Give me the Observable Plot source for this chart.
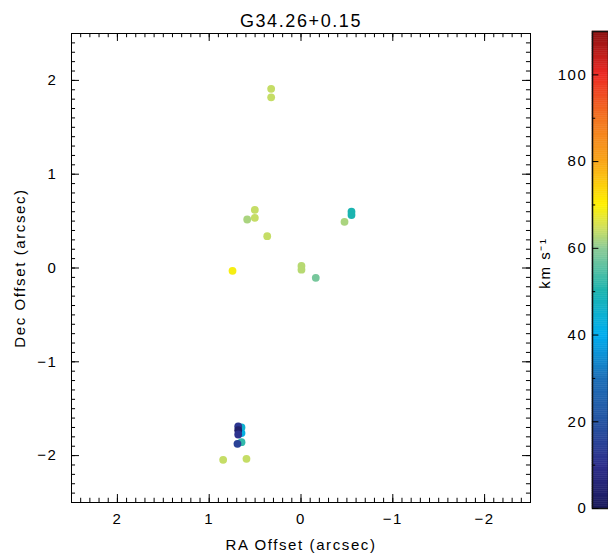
<!DOCTYPE html>
<html>
<head>
<meta charset="utf-8">
<script src="https://cdn.jsdelivr.net/npm/d3@7"></script>
<script src="https://cdn.jsdelivr.net/npm/@observablehq/plot@0.6"></script>
<style>
  body { margin: 0; background: #fff; }
  #chart { position: relative; width: 608px; height: 554px; font-family: "Liberation Sans", Arial, sans-serif; }
  #chart svg { position: absolute; top: 0; overflow: visible; }
  #chart svg text { letter-spacing: 1.6px; }
</style>
</head>
<body>
<div id="chart"></div>
<script>
// Maser spot positions (arcsec offsets) and LSR velocities (km/s)
const raOffset  = [0.325, 0.325, 0.503, 0.503, 0.586, 0.368, 0.746, -0.005, -0.005, -0.161, -0.474, -0.55, -0.55, 0.848, 0.594,
                   0.648, 0.648, 0.648, 0.684, 0.684, 0.684, 0.692];
const decOffset = [1.91, 1.82, 0.62, 0.535, 0.517, 0.339, -0.03, 0.022, -0.018, -0.105, 0.492, 0.60, 0.565, -2.045, -2.034,
                   -1.70, -1.76, -1.857, -1.69, -1.73, -1.775, -1.874];
const vlsr      = [64, 64, 64, 64, 62, 64, 69, 63, 63, 58, 62, 50, 50, 64, 64,
                   45, 42, 52, 12, 3, 11, 15];

const title = "G34.26+0.15";
const xTicks = [2, 1, 0, -1, -2];
const yTicks = [-2, -1, 0, 1, 2];
const velocityTicks = [0, 20, 40, 60, 80, 100];
const velocityMinor = [10, 30, 50, 70, 90];
const velocityLabel = "km s⁻¹";

// Rainbow colour table for velocity
const colorStops = [0, 10, 20, 30, 40, 50, 60, 65, 70, 80, 90, 100, 110];
const colorRange = ["#1b1a5c", "#2e2f8c", "#2554a2", "#1c6fb8", "#00aeef", "#1bb4b0", "#8ecc97",
                    "#d3e15a", "#fff100", "#f9a51a", "#f37421", "#ed2a24", "#8b1010"];

const spots = raOffset.map((x, i) => ({x, y: decOffset[i], v: vlsr[i]}));
const colorScale = {type: "linear", domain: colorStops, range: colorRange, clamp: true};

const font = "Liberation Sans, Arial, sans-serif";
const intFormat = d3.format("d");
const minor = d3.range(-25, 26).map(d => d / 10);
const xMin = 2.5, xMax = -2.5, yMin = -2.5, yMax = 2.5;
// inward tick lengths in data units
const majX = 0.087, minX = 0.044, majY = 0.085, minY = 0.045;

const main = Plot.plot({
  width: 608,
  height: 554,
  marginLeft: 71,
  marginRight: 78,
  marginTop: 33,
  marginBottom: 52,
  style: {fontFamily: font, fontSize: "15px", color: "#000", background: "transparent"},
  x: {domain: [xMin, xMax]},
  y: {domain: [yMin, yMax]},
  color: colorScale,
  marks: [
    Plot.frame({stroke: "#000", strokeWidth: 1}),
    // inward ticks on all four sides
    Plot.ruleX(minor, {x: d => d, y1: yMin, y2: yMin + minY, stroke: "#000"}),
    Plot.ruleX(minor, {x: d => d, y1: yMax, y2: yMax - minY, stroke: "#000"}),
    Plot.ruleX(xTicks, {x: d => d, y1: yMin, y2: yMin + majY, stroke: "#000"}),
    Plot.ruleX(xTicks, {x: d => d, y1: yMax, y2: yMax - majY, stroke: "#000"}),
    Plot.ruleY(minor, {y: d => d, x1: xMin, x2: xMin - minX, stroke: "#000"}),
    Plot.ruleY(minor, {y: d => d, x1: xMax, x2: xMax + minX, stroke: "#000"}),
    Plot.ruleY(yTicks, {y: d => d, x1: xMin, x2: xMin - majX, stroke: "#000"}),
    Plot.ruleY(yTicks, {y: d => d, x1: xMax, x2: xMax + majX, stroke: "#000"}),
    Plot.axisX(xTicks, {anchor: "bottom", tickSize: 0, tickPadding: 11, fontSize: 15, tickFormat: intFormat,
      label: "RA Offset (arcsec)", labelAnchor: "center", labelArrow: "none", labelOffset: 47}),
    Plot.axisY(yTicks, {anchor: "left", tickSize: 0, tickPadding: 14, fontSize: 15, tickFormat: intFormat,
      label: "Dec Offset (arcsec)", labelAnchor: "center", labelArrow: "none", labelOffset: 57}),
    Plot.dot(spots, {x: "x", y: "y", fill: "v", r: 3.9, stroke: null}),
    Plot.text([title], {frameAnchor: "top", dy: -19, fontSize: 18, fill: "#000"})
  ]
});

// Velocity colour bar
const ramp = d3.range(0, 110, 0.5);
const bar = Plot.plot({
  width: 68,
  height: 554,
  marginLeft: 52,
  marginRight: 0,
  marginTop: 31,
  marginBottom: 46,
  style: {fontFamily: font, fontSize: "15px", color: "#000", background: "transparent"},
  x: {domain: [0, 1], axis: null},
  y: {domain: [0, 110]},
  color: colorScale,
  marks: [
    Plot.rect(ramp, {x1: 0, x2: 1, y1: d => d, y2: d => d + 0.5, fill: d => d + 0.25, stroke: d => d + 0.25, strokeWidth: 0.5}),
    Plot.frame({stroke: "#111", strokeWidth: 1.5}),
    Plot.ruleY(velocityTicks, {y: d => d, x1: 0, x2: 0.4, stroke: "#000"}),
    Plot.ruleY(velocityMinor, {y: d => d, x1: 0, x2: 0.2, stroke: "#000"}),
    Plot.axisY(velocityTicks, {anchor: "left", tickSize: 0, tickPadding: 5, fontSize: 15, tickFormat: intFormat, label: null}),
    Plot.text([velocityLabel], {frameAnchor: "left", textAnchor: "middle", rotate: -90, dx: -47, dy: -7, fontSize: 15, fill: "#000"})
  ]
});

const root = document.getElementById("chart");
main.style.left = "0px";
bar.style.left = "540px";
root.appendChild(main);
root.appendChild(bar);
</script>
</body>
</html>
